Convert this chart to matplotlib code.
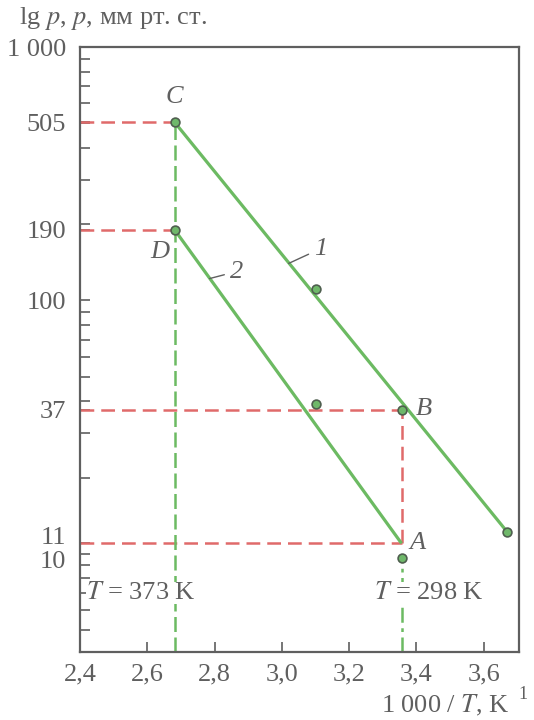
import matplotlib.pyplot as plt
import matplotlib.transforms as mtransforms
from matplotlib.ticker import LogLocator, NullFormatter, FixedLocator

plt.rcParams['font.family'] = ['Liberation Serif', 'DejaVu Serif']
plt.rcParams['mathtext.fontset'] = 'stix'

# Temperatures (K) and reciprocal values
T_hot, T_room = 373, 298
x_hot = 1000 / T_hot
x_room = 1000 / T_room

# Pressure points, mm Hg
p_C, p_D, p_B, p_A = 505, 190, 37, 11

# Curve 1: C -> end point; curve 2: D -> A
line1_x = [x_hot, 3.67]
line1_p = [p_C, 12.2]
line2_x = [x_hot, x_room]
line2_p = [p_D, p_A]

# Measured points shown as markers
pts_x = [x_hot, x_hot, 3.10, x_room, 3.67, 3.10, x_room]
pts_p = [p_C, p_D, 111, p_B, 12.2, 39, 9.6]

yticks = [10, 11, 37, 100, 190, 505, 1000]
ytick_labels = ['10', '11', '37', '100', '190', '505', '1 000']
xticks = [2.4, 2.6, 2.8, 3.0, 3.2, 3.4, 3.6]
xtick_labels = ['2,4', '2,6', '2,8', '3,0', '3,2', '3,4', '3,6']

gray = '#5f5f5f'
green = '#6cba62'
red = '#e06a6a'

fig = plt.figure(figsize=(5.34, 7.2), dpi=100)
ax = fig.add_axes([0.150, 0.0944, 0.822, 0.8403])
ax.set_yscale('log')
ax.set_xlim(2.4, 3.705)
ax.set_ylim(4.1, 1000)

# red guide lines
dash_r = (5.5, 2.8)
ax.plot([2.4, x_hot], [p_C, p_C], color=red, lw=1.8, dashes=dash_r, zorder=2)
ax.plot([2.4, x_hot], [p_D, p_D], color=red, lw=1.8, dashes=dash_r, zorder=2)
ax.plot([2.4, x_room], [p_B, p_B], color=red, lw=1.8, dashes=dash_r, zorder=2)
ax.plot([2.4, x_room], [p_A, p_A], color=red, lw=1.8, dashes=dash_r, zorder=2)
ax.plot([x_room, x_room], [p_A, p_B], color=red, lw=1.8, dashes=dash_r, zorder=2)

# green vertical guides
ax.plot([x_hot, x_hot], [4.1, p_C], color=green, lw=1.8, dashes=(6, 2.2), zorder=2)
ax.plot([x_room, x_room], [4.1, 9.6], color=green, lw=1.8,
        dashes=(6, 2.2, 1.5, 2.2), zorder=2)

# curves
ax.plot(line1_x, line1_p, color=green, lw=2.3, zorder=3, solid_capstyle='butt')
ax.plot(line2_x, line2_p, color=green, lw=2.3, zorder=3, solid_capstyle='butt')
ax.scatter(pts_x, pts_p, s=40, color='#6fb86a', edgecolors='#4f5f4f',
           linewidths=1.2, zorder=4)

# point letters
tk = dict(color=gray, fontsize=19, style='italic')
ax.annotate('C', (x_hot, p_C), xytext=(0, 10), textcoords='offset points',
            ha='center', va='bottom', **tk)
ax.annotate('D', (x_hot, p_D), xytext=(-4, -8), textcoords='offset points',
            ha='right', va='top', **tk)
ax.annotate('B', (x_room, p_B), xytext=(10, 1), textcoords='offset points',
            ha='left', va='center', **tk)
ax.annotate('A', (x_room, p_A), xytext=(6, 0), textcoords='offset points',
            ha='left', va='center', **tk)

# curve numbers with leaders
ax.annotate('1', (3.02, 140), xytext=(3.095, 160), ha='left', va='center',
            arrowprops=dict(arrowstyle='-', color=gray, lw=1.0,
                            shrinkA=2, shrinkB=0), **tk)
ax.annotate('2', (2.785, 122), xytext=(2.845, 130), ha='left', va='center',
            arrowprops=dict(arrowstyle='-', color=gray, lw=1.0,
                            shrinkA=2, shrinkB=0), **tk)

# temperature labels, drawn over the guide lines
bg = dict(facecolor='white', edgecolor='none', pad=0)
ax.text(2.418, 7.0, '$T$ = 373 K', color=gray, fontsize=19, ha='left',
        va='center', bbox=bg, zorder=5)
ax.text(3.438, 7.0, '$T$ = 298 K', color=gray, fontsize=19, ha='center',
        va='center', bbox=bg, zorder=5)

# axes styling
for s in ax.spines.values():
    s.set_color(gray)
    s.set_linewidth(1.6)
ax.yaxis.set_major_locator(FixedLocator(yticks))
ax.set_yticklabels(ytick_labels)
ax.yaxis.set_minor_locator(LogLocator(base=10, subs=range(2, 10)))
ax.yaxis.set_minor_formatter(NullFormatter())
ax.set_xticks(xticks)
ax.set_xticklabels(xtick_labels)
ax.tick_params(axis='both', which='both', direction='in', length=7, width=1.2,
               color=gray, labelcolor=gray, labelsize=19)
ax.tick_params(axis='y', which='both', pad=10)
ax.tick_params(axis='x', which='both', pad=8)

# the 11 and 10 labels sit close together: nudge them apart
for lbl, val in zip(ax.get_yticklabels(), yticks):
    if val == 11:
        lbl.set_transform(lbl.get_transform() +
                          mtransforms.ScaledTranslation(0, 6 / 72, fig.dpi_scale_trans))
    elif val == 10:
        lbl.set_transform(lbl.get_transform() +
                          mtransforms.ScaledTranslation(0, -4 / 72, fig.dpi_scale_trans))

fig.text(0.035, 0.975, 'lg $p$, $p$, мм рт. ст.', color=gray, fontsize=19,
         ha='left', va='center')
fig.text(0.955, 0.02, '1 000 / $T$, K', color=gray, fontsize=19,
         ha='right', va='center')
fig.text(0.97, 0.035, '1', color=gray, fontsize=13, ha='left', va='center')

fig.savefig('out.png', dpi=100)
